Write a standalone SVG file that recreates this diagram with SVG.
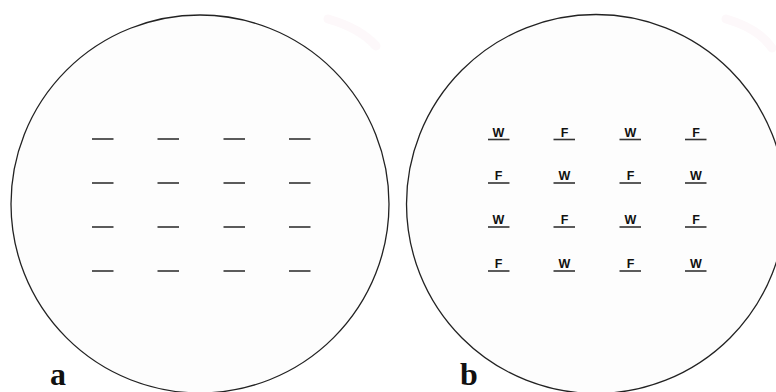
<svg xmlns="http://www.w3.org/2000/svg" width="776" height="392" viewBox="0 0 776 392">
<style>
.wafer{fill:#fdfdfd;stroke:#222;stroke-width:1.3}
.bar{stroke:#333;stroke-width:1.6}
.lbl{font-family:"Liberation Sans",Arial,sans-serif;font-weight:bold;font-size:12.5px;fill:#111;text-anchor:middle}
.panel{font-family:"Liberation Serif","Times New Roman",serif;font-weight:bold;font-size:32px;fill:#111}
.ghost{fill:none;stroke:#fdf8fa;stroke-width:9;stroke-linecap:round}
</style>
<rect width="776" height="392" fill="#ffffff"/>
<path class="ghost" d="M328,19 Q360,28 376,46"/>
<path class="ghost" d="M726,19 Q758,28 772,48"/>
<g id="wafer-a">
<circle class="wafer" cx="200" cy="204" r="189"/>
<g id="bars-a">
<line class="bar" x1="92" y1="139" x2="113.5" y2="139"/><line class="bar" x1="157.5" y1="139" x2="179" y2="139"/><line class="bar" x1="223.5" y1="139" x2="245" y2="139"/><line class="bar" x1="289" y1="139" x2="310.5" y2="139"/>
<line class="bar" x1="92" y1="183" x2="113.5" y2="183"/><line class="bar" x1="157.5" y1="183" x2="179" y2="183"/><line class="bar" x1="223.5" y1="183" x2="245" y2="183"/><line class="bar" x1="289" y1="183" x2="310.5" y2="183"/>
<line class="bar" x1="92" y1="227" x2="113.5" y2="227"/><line class="bar" x1="157.5" y1="227" x2="179" y2="227"/><line class="bar" x1="223.5" y1="227" x2="245" y2="227"/><line class="bar" x1="289" y1="227" x2="310.5" y2="227"/>
<line class="bar" x1="92" y1="271" x2="113.5" y2="271"/><line class="bar" x1="157.5" y1="271" x2="179" y2="271"/><line class="bar" x1="223.5" y1="271" x2="245" y2="271"/><line class="bar" x1="289" y1="271" x2="310.5" y2="271"/>
</g>
</g>
<g id="wafer-b">
<circle class="wafer" cx="596" cy="204" r="189.5"/>
<g id="bars-b">
<line class="bar" x1="488" y1="139.5" x2="509.5" y2="139.5"/><line class="bar" x1="553.5" y1="139.5" x2="575" y2="139.5"/><line class="bar" x1="619.5" y1="139.5" x2="641" y2="139.5"/><line class="bar" x1="685" y1="139.5" x2="706.5" y2="139.5"/>
<line class="bar" x1="488" y1="183" x2="509.5" y2="183"/><line class="bar" x1="553.5" y1="183" x2="575" y2="183"/><line class="bar" x1="619.5" y1="183" x2="641" y2="183"/><line class="bar" x1="685" y1="183" x2="706.5" y2="183"/>
<line class="bar" x1="488" y1="227" x2="509.5" y2="227"/><line class="bar" x1="553.5" y1="227" x2="575" y2="227"/><line class="bar" x1="619.5" y1="227" x2="641" y2="227"/><line class="bar" x1="685" y1="227" x2="706.5" y2="227"/>
<line class="bar" x1="488" y1="271" x2="509.5" y2="271"/><line class="bar" x1="553.5" y1="271" x2="575" y2="271"/><line class="bar" x1="619.5" y1="271" x2="641" y2="271"/><line class="bar" x1="685" y1="271" x2="706.5" y2="271"/>
</g>
<g id="labels-b">
<text class="lbl" x="498.5" y="136.5">W</text><text class="lbl" x="564.5" y="136.5">F</text><text class="lbl" x="630.5" y="136.5">W</text><text class="lbl" x="696" y="136.5">F</text>
<text class="lbl" x="498.5" y="180">F</text><text class="lbl" x="564.5" y="180">W</text><text class="lbl" x="630.5" y="180">F</text><text class="lbl" x="696" y="180">W</text>
<text class="lbl" x="498.5" y="224">W</text><text class="lbl" x="564.5" y="224">F</text><text class="lbl" x="630.5" y="224">W</text><text class="lbl" x="696" y="224">F</text>
<text class="lbl" x="498.5" y="268">F</text><text class="lbl" x="564.5" y="268">W</text><text class="lbl" x="630.5" y="268">F</text><text class="lbl" x="696" y="268">W</text>
</g>
</g>
<text class="panel" x="50" y="385">a</text>
<text class="panel" x="460" y="385">b</text>
</svg>
